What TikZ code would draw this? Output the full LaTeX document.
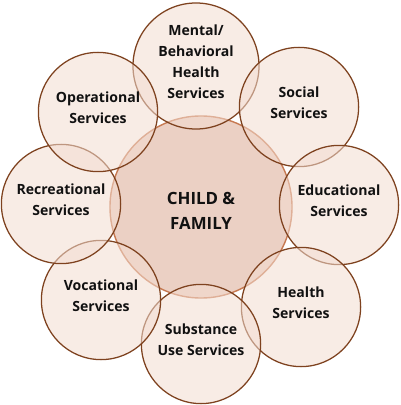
\documentclass[tikz,border=0pt]{standalone}
\usepackage{fontspec}
\setmainfont{Open Sans}
\usepackage{xcolor}
\usepackage{tikz}
\usetikzlibrary{positioning}
\definecolor{hubfill}{HTML}{EBD0C4}
\definecolor{hubline}{HTML}{C77A52}
\definecolor{servicefill}{HTML}{F3DCD0}
\definecolor{serviceline}{HTML}{7E421F}
\definecolor{labeltext}{HTML}{111111}
\tikzstyle{hub} = [circle, minimum size=4.55cm, inner sep=0pt, draw=hubline, line width=1pt, fill=hubfill]
\tikzstyle{service} = [circle, minimum size=2.98cm, inner sep=0pt, draw=serviceline, line width=0.9pt, fill=servicefill, fill opacity=0.55]
\tikzstyle{hubtext} = [align=center, text=labeltext, font=\bfseries\fontsize{12}{18}\selectfont]
\tikzstyle{servicetext} = [align=center, text=labeltext, font=\bfseries\fontsize{10}{15}\selectfont]

\begin{document}
\begin{tikzpicture}[x=0.025cm, y=-0.025cm]
    \useasboundingbox (0,0) rectangle (400,405);
    % circles
    \node (family) [hub] at (201,207) {};
    \node (mental) [service, minimum size=3.15cm] at (196,66) {};
    \node (social) [service] at (299,107) {};
    \node (educational) [service] at (339,205) {};
    \node (health) [service] at (301,307) {};
    \node (substance) [service] at (201,344) {};
    \node (vocational) [service] at (101,300) {};
    \node (recreational) [service] at (61,204) {};
    \node (operational) [service] at (98,112) {};
    % labels
    \node (familytext) [hubtext, below=-0.5cm of family.center] {CHILD \&\\FAMILY};
    \node (mentaltext) [servicetext, below=-1.15cm of mental.center] {Mental/\\Behavioral\\Health\\Services};
    \node (socialtext) [servicetext, below=-0.62cm of social.center] {Social\\Services};
    \node (educationaltext) [servicetext, below=-0.62cm of educational.center] {Educational\\Services};
    \node (healthtext) [servicetext, below=-0.62cm of health.center] {Health\\Services};
    \node (substancetext) [servicetext, below=-0.62cm of substance.center] {Substance\\Use Services};
    \node (vocationaltext) [servicetext, below=-0.62cm of vocational.center] {Vocational\\Services};
    \node (recreationaltext) [servicetext, below=-0.62cm of recreational.center] {Recreational\\Services};
    \node (operationaltext) [servicetext, below=-0.62cm of operational.center] {Operational\\Services};
\end{tikzpicture}
\end{document}
